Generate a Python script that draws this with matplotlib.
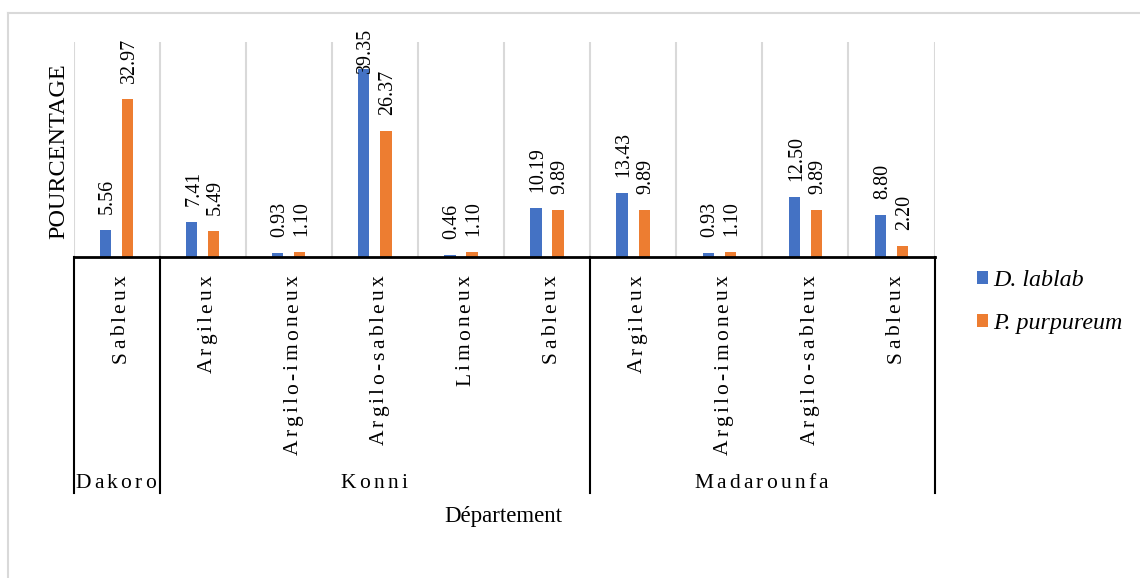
import matplotlib
matplotlib.use('Agg')
import matplotlib.pyplot as plt
import matplotlib.transforms as mtransforms
from matplotlib.font_manager import FontProperties
import numpy as np

# Data
departements = ['Dakoro', 'Konni', 'Madarounfa']
groupe_tailles = [1, 5, 4]
sols = ['Sableux', 'Argileux', 'Argilo-imoneux', 'Argilo-sableux', 'Limoneux',
        'Sableux', 'Argileux', 'Argilo-imoneux', 'Argilo-sableux', 'Sableux']
d_lablab = [5.56, 7.41, 0.93, 39.35, 0.46, 10.19, 13.43, 0.93, 12.50, 8.80]
p_purpureum = [32.97, 5.49, 1.10, 26.37, 1.10, 9.89, 9.89, 1.10, 9.89, 2.20]

SERIF = 'Liberation Serif'
W, H = 1140, 578
fig = plt.figure(figsize=(W / 100, H / 100), dpi=100)
ax = fig.add_axes([73.5 / W, 1 - 257 / H, (934.5 - 73.5) / W, (257 - 42) / H])

x = np.arange(len(sols))
bw = 0.131
off = 0.128
b1 = ax.bar(x - off, d_lablab, bw, color='#4472C4')
b2 = ax.bar(x + off, p_purpureum, bw, color='#ED7D31')

ax.set_xlim(-0.5, len(sols) - 0.5)
ax.set_ylim(0, 45)
for s in ['top', 'right', 'left']:
    ax.spines[s].set_visible(False)
ax.spines['bottom'].set_linewidth(2)
ax.spines['bottom'].set_color('black')
ax.set_yticks([])
ax.set_xticks(np.arange(len(sols) + 1) - 0.5)
ax.set_xticklabels([])
ax.tick_params(axis='x', length=0)
ax.grid(axis='x', color='#d9d9d9', lw=1.5)
ax.set_axisbelow(True)

renderer = fig.canvas.get_renderer()
fp_val = FontProperties(family=SERIF, size=14.4)

# data labels, kept inside the chart area like Excel does
for bars, vals in [(b1, d_lablab), (b2, p_purpureum)]:
    for rect, v in zip(bars, vals):
        txt = f'{v:.2f}'
        tw = renderer.get_text_width_height_descent(txt, fp_val, ismath=False)[0]
        bar_top = H - ax.transData.transform((0, v))[1]
        gap = 16
        top = bar_top - gap - tw
        if top < 28:
            gap -= 28 - top
        ax.annotate(txt, xy=(rect.get_x() + rect.get_width() / 2, v),
                    xytext=(6.5, gap), textcoords='offset pixels',
                    rotation=90, rotation_mode='anchor', ha='left', va='baseline',
                    fontproperties=fp_val, annotation_clip=False)


def spaced_text(s, xy, dx, dy, extra, vertical, anchor, fp):
    def width(t):
        return renderer.get_text_width_height_descent(t, fp, ismath=False)[0] if t else 0
    n = len(s)
    pos = [width(s[:i]) + i * extra for i in range(n)]
    L = width(s) + (n - 1) * extra
    start = -L / 2 if anchor == 'center' else -L
    for ch, p in zip(s, pos):
        if vertical:
            ox, oy, rot = dx, dy + start + p, 90
        else:
            ox, oy, rot = dx + start + p, dy, 0
        ax.annotate(ch, xy=xy, xycoords='data', xytext=(ox, oy),
                    textcoords='offset pixels', rotation=rot, rotation_mode='anchor',
                    ha='left', va='baseline', fontproperties=fp, annotation_clip=False)


fp_cat = FontProperties(family=SERIF, size=15.5)
for i, s in enumerate(sols):
    spaced_text(s, (i, 0), 9, -18, 3.2, True, 'end', fp_cat)

# group separators and department labels
bornes = np.concatenate([[0], np.cumsum(groupe_tailles)]) - 0.5
trans = mtransforms.blended_transform_factory(ax.transData, ax.transAxes)
for b in bornes:
    ax.plot([b, b], [0, -236 / 215], transform=trans, color='black', lw=1.5,
            clip_on=False)
for d, a, b in zip(departements, bornes[:-1], bornes[1:]):
    spaced_text(d, ((a + b) / 2, 0), -1, -231, 3.2, False, 'center', fp_cat)

fig.text(503.5 / W, 1 - 521.7 / H, 'Département', ha='center', va='baseline',
         fontsize=16.5, family=SERIF)
fig.text(64 / W, 1 - 151 / H, 'POURCENTAGE', rotation=90, rotation_mode='anchor',
         ha='center', va='baseline', fontsize=17.5, family=SERIF)

fig.legend(handles=[b1, b2], labels=['D. lablab', 'P. purpureum'],
           loc='center left', bbox_to_anchor=(976.7 / W, 1 - 302 / H),
           frameon=False, prop=FontProperties(family=SERIF, style='italic', size=17.3),
           handlelength=0.46, handleheight=0.46, handletextpad=0.23,
           labelspacing=0.9, borderpad=0, borderaxespad=0)

# chart area border
fig.add_artist(plt.Line2D([8 / W, 1], [1 - 13 / H, 1 - 13 / H], color='#d9d9d9', lw=1.5))
fig.add_artist(plt.Line2D([8 / W, 8 / W], [0, 1 - 13 / H], color='#d9d9d9', lw=1.5))

fig.savefig('out.png', dpi=100)
